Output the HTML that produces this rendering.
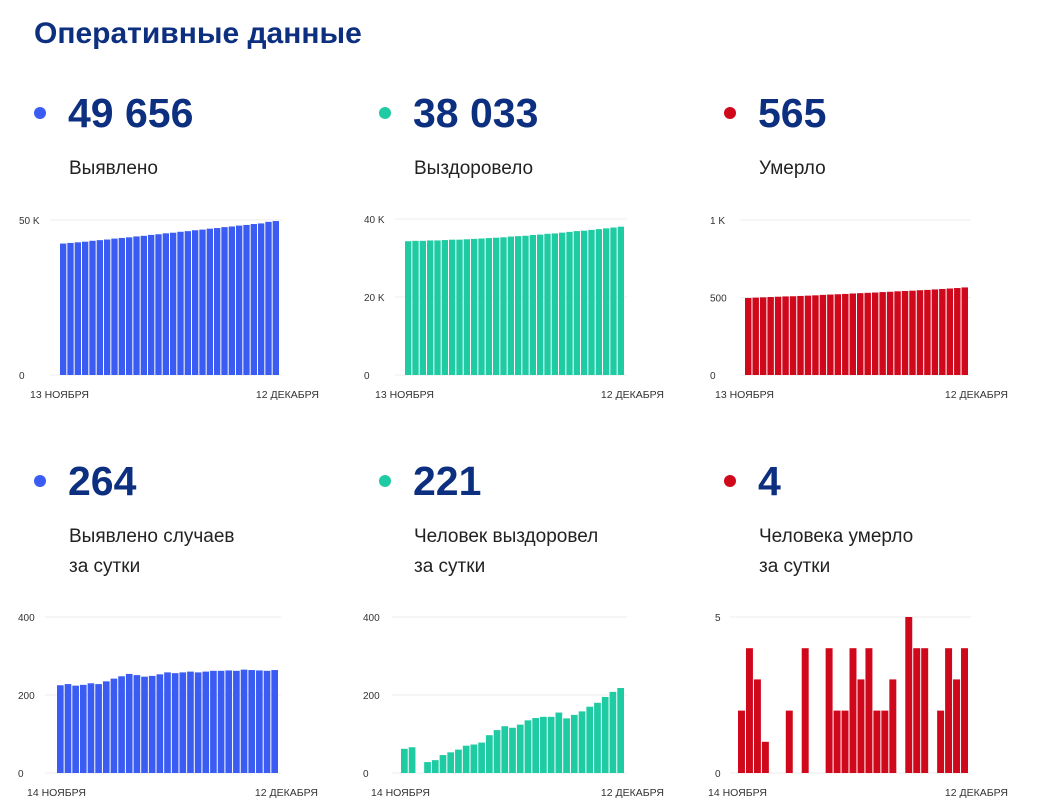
<!DOCTYPE html>
<html><head><meta charset="utf-8"><style>
html,body{margin:0;padding:0;background:#fff;}
svg{display:block;font-family:"Liberation Sans",sans-serif;}
</style></head><body>
<svg id="root" width="1050" height="804" viewBox="0 0 1050 804">
<text x="34" y="43" font-size="30" font-weight="bold" fill="#0d2f80">Оперативные данные</text>
</svg>
<script>
const topDates = ["13 НОЯБРЯ","12 ДЕКАБРЯ"];
const botDates = ["14 НОЯБРЯ","12 ДЕКАБРЯ"];
const casesTotal = [42.4,42.6,42.8,43.0,43.3,43.5,43.7,44.0,44.2,44.4,44.7,44.9,45.2,45.4,45.7,45.9,46.2,46.4,46.7,46.9,47.2,47.4,47.7,47.9,48.2,48.4,48.7,48.9,49.4,49.66];
const recoveredTotal = [34.3,34.4,34.4,34.5,34.5,34.6,34.7,34.7,34.8,34.9,35.0,35.1,35.2,35.3,35.5,35.6,35.7,35.9,36.0,36.2,36.3,36.5,36.7,36.9,37.0,37.2,37.4,37.6,37.8,38.03];
const deathsTotal = [497,499,501,503,505,507,508,510,512,514,517,519,521,523,526,528,530,532,535,537,540,542,544,547,549,552,555,558,561,565];
const casesDaily = [225,228,224,226,230,228,235,242,248,254,251,247,249,253,258,256,258,260,258,260,262,262,263,262,265,264,263,262,264];
const recoveredDaily = [62,66,0,28,33,46,53,60,70,73,78,97,110,120,116,124,135,141,144,144,155,140,149,158,170,180,195,208,218];
const deathsDaily = [2,4,3,1,0,0,2,0,4,0,0,4,2,2,4,3,4,2,2,3,0,5,4,4,0,2,4,3,4];
const casesTopTicks = [0,50], casesTopLabels = ["0","50 K"];
const recTopTicks = [0,20,40], recTopLabels = ["0","20 K","40 K"];
const deathTopTicks = [0,500,1000], deathTopLabels = ["0","500","1 K"];
const dailyTicks = [0,200,400], dailyLabels = ["0","200","400"];
const deathDailyTicks = [0,5], deathDailyLabels = ["0","5"];
const headNumbers = ["49 656","38 033","565","264","221","4"];
const headLabels = [["Выявлено"],["Выздоровело"],["Умерло"],["Выявлено случаев","за сутки"],["Человек выздоровел","за сутки"],["Человека умерло","за сутки"]];

const NS="http://www.w3.org/2000/svg";
const root=document.getElementById('root');
function mk(tag,attrs,parent){const e=document.createElementNS(NS,tag);for(const k in attrs)e.setAttribute(k,attrs[k]);(parent||root).appendChild(e);return e;}
const colors=["#3a5cf2","#1fcba2","#d0081c"];
const colX=[0,345,690];

for(let i=0;i<6;i++){
  const cx=colX[i%3], rowY=i<3?0:368;
  const c=colors[i%3];
  const dot=mk('circle',{cx:cx+40,cy:rowY+113,r:6,fill:c});
  
  
  const n=mk('text',{x:cx+68,y:rowY+127,'font-size':41,'font-weight':'bold',fill:'#0d2f80'});
  n.textContent=headNumbers[i];
  
  
  headLabels[i].forEach((t,j)=>{
    const l=mk('text',{x:cx+69,y:rowY+174+j*30,'font-size':19,fill:'#222'});
    l.textContent=t;
    
    
  });
}

function chart(o){
  const g=mk('g',{});
  
  
  const y=v=>o.y0-(v/o.max)*(o.y0-o.y1);
  o.ticks.forEach((t,k)=>{
    const ln=mk('line',{x1:o.gx,x2:o.x1+2,y1:y(t),y2:y(t),stroke:'#eee','stroke-width':1},g);
    
    
    const tx=mk('text',{x:o.lx,y:y(t)+4,'font-size':10,fill:'#333'},g);
    tx.textContent=o.labels[k];
    
    
  });
  const n=o.data.length, w=(o.x1-o.x0)/n;
  o.data.forEach((v,k)=>{
    if(v<=0)return;
    const r=mk('rect',{x:o.x0+k*w,y:y(v),width:w-1,height:o.y0-y(v),fill:o.color},g);
    
    
  });
  const d1=mk('text',{x:o.x0-30,y:o.y0+23,'font-size':10.5,fill:'#333'},g);
  d1.textContent=o.dates[0];
  
  
  const d2=mk('text',{x:o.x1+39,y:o.y0+23,'font-size':10.5,fill:'#333','text-anchor':'end'},g);
  d2.textContent=o.dates[1];
  
  
}
chart({name:'cases-total-chart',data:casesTotal,max:50,ticks:casesTopTicks,labels:casesTopLabels,x0:60,x1:280,y0:375,y1:220,gx:50,lx:19,color:colors[0],dates:topDates});
chart({name:'recovered-total-chart',data:recoveredTotal,max:40,ticks:recTopTicks,labels:recTopLabels,x0:405,x1:625,y0:375,y1:219,gx:395,lx:364,color:colors[1],dates:topDates});
chart({name:'deaths-total-chart',data:deathsTotal,max:1000,ticks:deathTopTicks,labels:deathTopLabels,x0:745,x1:969,y0:375,y1:220,gx:740,lx:710,color:colors[2],dates:topDates});
chart({name:'cases-daily-chart',data:casesDaily,max:400,ticks:dailyTicks,labels:dailyLabels,x0:57,x1:279,y0:773,y1:617,gx:45,lx:18,color:colors[0],dates:botDates});
chart({name:'recovered-daily-chart',data:recoveredDaily,max:400,ticks:dailyTicks,labels:dailyLabels,x0:401,x1:625,y0:773,y1:617,gx:392,lx:363,color:colors[1],dates:botDates});
chart({name:'deaths-daily-chart',data:deathsDaily,max:5,ticks:deathDailyTicks,labels:deathDailyLabels,x0:738,x1:969,y0:773,y1:617,gx:730,lx:715,color:colors[2],dates:botDates});
</script>
</body></html>
